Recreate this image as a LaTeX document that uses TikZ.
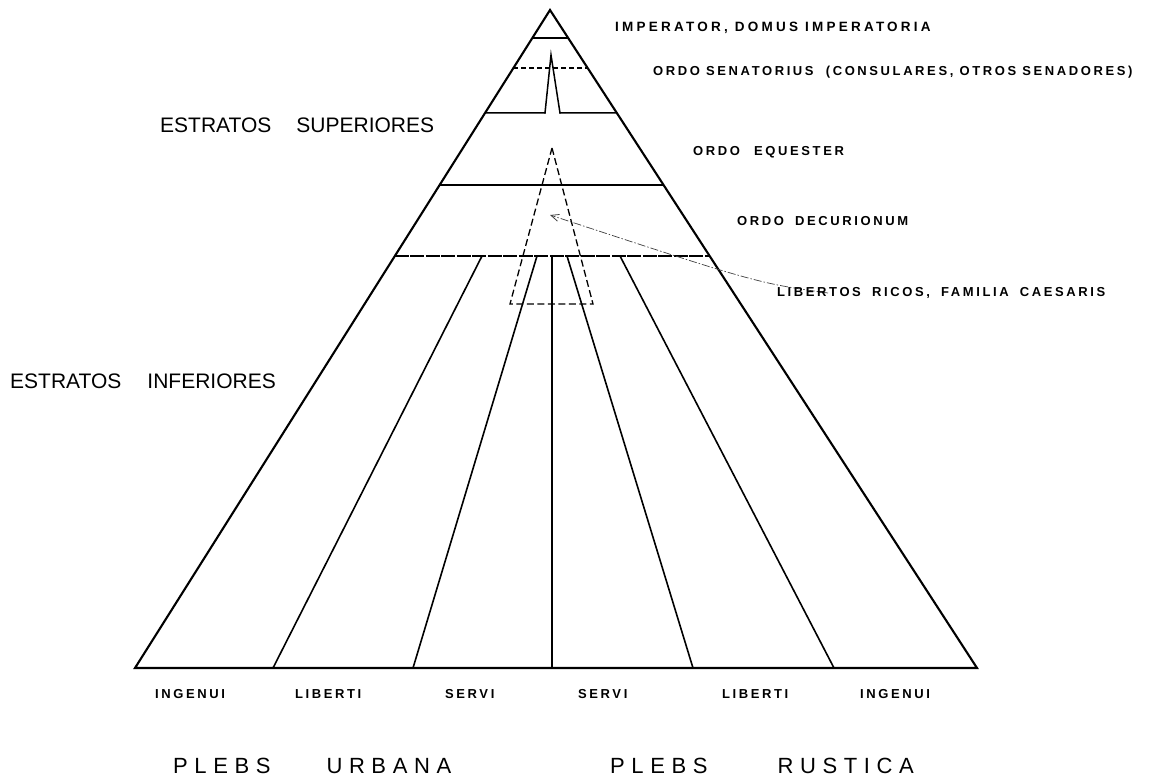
\documentclass[tikz,border=0pt]{standalone}
\usepackage{fontspec}
\setmainfont{Liberation Sans}
\newfontfamily\tagfont[LetterSpace=20]{Liberation Sans}
\newfontfamily\plebsfont[LetterSpace=30]{Liberation Sans}
\usetikzlibrary{arrows.meta, calc}
\tikzset{
    >=Stealth,
    side/.style={line width=2.1pt, line join=miter},
    stratum/.style={line width=1.5pt},
    fan/.style={line width=1.6pt},
    heavy/.style={line width=2.1pt, dash pattern=on 14pt off 1.5pt},
    freedmen/.style={line width=1.3pt, dash pattern=on 7pt off 3.5pt},
    pointer/.style={line width=0.7pt, black!75, dash pattern=on 8pt off 2pt on 1.5pt off 2pt,
        -{Straight Barb[length=8pt, width=7pt, line width=0.8pt]}},
    tag/.style={inner sep=0pt, anchor=base west, font=\tagfont\bfseries\fontsize{13}{15}\selectfont},
    stratlabel/.style={inner sep=0pt, anchor=base west, font=\fontsize{21}{24}\selectfont},
    plebs/.style={inner sep=0pt, anchor=base west, font=\plebsfont\fontsize{22}{25}\selectfont}
}

\begin{document}
\begin{tikzpicture}[x=1pt, y=-1pt]

    \useasboundingbox (0,0) rectangle (1157,776);

    \coordinate (apex) at (550,10);
    \coordinate (bl) at (135,668);
    \coordinate (br) at (977,668);

    \draw[side] (bl) -- (apex) -- (br) -- cycle;

    % estratos superiores
    \foreach \t in {0.0426, 0.266}
        \draw[stratum] ($(apex)!\t!(bl)$) -- ($(apex)!\t!(br)$);
    \draw[stratum, dash pattern=on 5pt off 3pt] ($(apex)!0.0881!(bl)$) -- ($(apex)!0.0881!(br)$);
    \draw[stratum] ($(apex)!0.1565!(bl)$) -- (545,113) -- (551,55) -- (560,113)
        -- ($(apex)!0.1565!(br)$);
    \draw[heavy] ($(apex)!0.3739!(bl)$) -- ($(apex)!0.3739!(br)$);

    % plebs
    \draw[line width=2.8pt] (552,256) -- (552,668);
    \foreach \a/\b in {482/273, 537/413, 567/693, 620/834}
        \draw[fan] (\a,256) -- (\b,668);

    \draw[freedmen] (552,148) -- (593,304) -- (510,304) -- cycle;

    \coordinate (rich) at (550,215);
    \coordinate (tail) at (828,293);
    \draw[pointer] (tail) .. controls (757,283) .. (rich);

    \node[tag, font=\tagfont\bfseries\fontsize{13.5}{15}\selectfont\addfontfeature{LetterSpace=24}]
        (imperator) at (615,32) {IMPERATOR, DOMUS IMPERATORIA};
    \node[tag] (senatorius) at (653,75) {ORDO SENATORIUS\hspace{6pt} (CONSULARES, OTROS SENADORES)};
    \node[tag] (equester) at (693,155) {ORDO\hspace{8pt} EQUESTER};
    \node[tag] (decurionum) at (737,225) {ORDO\hspace{5pt} DECURIONUM};
    \node[tag] (libertos) at (777,296) {LIBERTOS\hspace{5pt} RICOS,\hspace{5pt} FAMILIA\hspace{5pt} CAESARIS};

    \node[stratlabel] (superiores) at (160,132) {ESTRATOS\hspace{25pt}SUPERIORES};
    \node[stratlabel] (inferiores) at (10,388) {ESTRATOS\hspace{26pt}INFERIORES};

    \node[tag] (ingenuiU) at (155,698) {INGENUI};
    \node[tag] (libertiU) at (295,698) {LIBERTI};
    \node[tag] (serviU) at (445,698) {SERVI};
    \node[tag] (serviR) at (578,698) {SERVI};
    \node[tag] (libertiR) at (722,698) {LIBERTI};
    \node[tag] (ingenuiR) at (860,698) {INGENUI};

    \node[plebs] (urbana) at (173,773) {PLEBS\hspace{56pt}URBANA};
    \node[plebs] (rustica) at (610,773) {PLEBS\hspace{70pt}RUSTICA};

\end{tikzpicture}
\end{document}
